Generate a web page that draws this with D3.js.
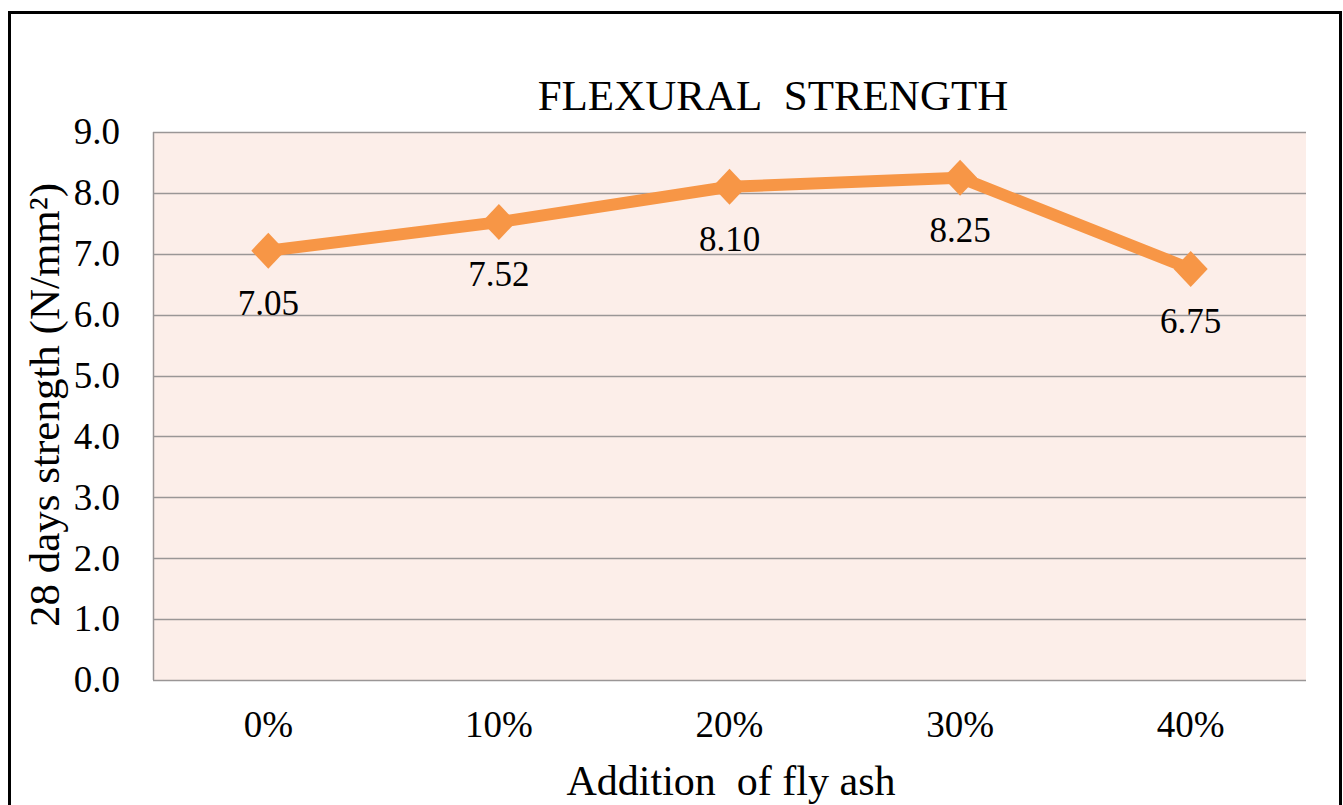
<!DOCTYPE html>
<html>
<head>
<meta charset="utf-8">
<script src="https://cdn.jsdelivr.net/npm/d3@7"></script>
<style>
  body { margin: 0; background: #fff; }
  svg { display: block; font-family: "Liberation Serif", "Times New Roman", serif; }
</style>
</head>
<body>
<svg></svg>
<script>
// flexural strength chart
var categories = ["0%", "10%", "20%", "30%", "40%"];
var strength = [7.05, 7.52, 8.10, 8.25, 6.75];
var yTicks = [0, 1, 2, 3, 4, 5, 6, 7, 8, 9];

var svgWidth = 1343,
    svgHeight = 805;
var plot = { left: 153, right: 1306, top: 132, bottom: 680 };

var svg = d3.select('svg')
    .attr("width", svgWidth)
    .attr("height", svgHeight);

// outer frame
svg.append("rect")
    .attr("x", 9.5)
    .attr("y", 12.5)
    .attr("width", 1331)
    .attr("height", 820)
    .attr("fill", "#fff")
    .attr("stroke", "#000")
    .attr("stroke-width", 3);

var xScale = d3.scaleBand()
    .domain(categories)
    .range([plot.left, plot.right]);

var yScale = d3.scaleLinear()
    .domain([0, 9])
    .range([plot.bottom, plot.top]);

// plot area background
svg.append("rect")
    .attr("x", plot.left)
    .attr("y", plot.top)
    .attr("width", plot.right - plot.left)
    .attr("height", plot.bottom - plot.top)
    .attr("fill", "#FCEEE9");

// gridlines
svg.append("g")
    .selectAll("line")
    .data(yTicks)
    .enter()
    .append("line")
    .attr("x1", plot.left)
    .attr("x2", plot.right)
    .attr("y1", function(d) { return Math.round(yScale(d)) + 0.5; })
    .attr("y2", function(d) { return Math.round(yScale(d)) + 0.5; })
    .attr("stroke", "#9a9696")
    .attr("stroke-width", 1.5);

svg.append("line")
    .attr("x1", plot.left + 0.5)
    .attr("x2", plot.left + 0.5)
    .attr("y1", plot.top)
    .attr("y2", plot.bottom)
    .attr("stroke", "#9a9696")
    .attr("stroke-width", 1.5);

// y axis labels
var yAxis = d3.axisLeft(yScale)
    .tickValues(yTicks)
    .tickFormat(d3.format(".1f"))
    .tickSize(0)
    .tickPadding(33);

var yg = svg.append("g")
    .attr("transform", "translate(" + plot.left + ",0)")
    .call(yAxis);
yg.select(".domain").remove();
yg.selectAll("text")
    .attr("font-family", "Liberation Serif")
    .attr("font-size", 37)
    .attr("fill", "#000");

// x axis labels
var xAxis = d3.axisBottom(xScale)
    .tickSize(0)
    .tickPadding(31);

var xg = svg.append("g")
    .attr("transform", "translate(0," + plot.bottom + ")")
    .call(xAxis);
xg.select(".domain").remove();
xg.selectAll("text")
    .attr("font-family", "Liberation Serif")
    .attr("font-size", 37)
    .attr("fill", "#000");

// line
var line = d3.line()
    .x(function(d, i) { return xScale(categories[i]) + xScale.bandwidth() / 2; })
    .y(function(d) { return yScale(d); });

svg.append("path")
    .datum(strength)
    .attr("d", line)
    .attr("fill", "none")
    .attr("stroke", "#F79646")
    .attr("stroke-width", 12)
    .attr("stroke-linejoin", "round");

// diamond markers
svg.selectAll(".marker")
    .data(strength)
    .enter()
    .append("path")
    .attr("class", "marker")
    .attr("d", "M0,-18L17,0L0,18L-17,0Z")
    .attr("fill", "#F79646")
    .attr("transform", function(d, i) {
        var translate = [xScale(categories[i]) + xScale.bandwidth() / 2, yScale(d)];
        return "translate(" + translate + ")";
    });

// data labels
svg.selectAll(".label")
    .data(strength)
    .enter()
    .append("text")
    .attr("class", "label")
    .text(function(d) { return d.toFixed(2); })
    .attr("x", function(d, i) { return xScale(categories[i]) + xScale.bandwidth() / 2; })
    .attr("y", function(d) { return yScale(d) + 64; })
    .attr("text-anchor", "middle")
    .attr("font-size", 35)
    .attr("fill", "#000");

// title
svg.append("text")
    .text("FLEXURAL\u00a0\u00a0STRENGTH")
    .attr("x", 773)
    .attr("y", 110)
    .attr("text-anchor", "middle")
    .attr("font-size", 43)
    .attr("fill", "#000");

// axis titles
svg.append("text")
    .text("Addition\u00a0\u00a0of fly ash")
    .attr("x", 731)
    .attr("y", 795)
    .attr("text-anchor", "middle")
    .attr("font-size", 42)
    .attr("fill", "#000");

svg.append("text")
    .attr("transform", "translate(59,405) rotate(-90)")
    .attr("text-anchor", "middle")
    .attr("font-size", 43)
    .attr("fill", "#000")
    .text("28 days strength (N/mm\u00b2)");
</script>
</body>
</html>
